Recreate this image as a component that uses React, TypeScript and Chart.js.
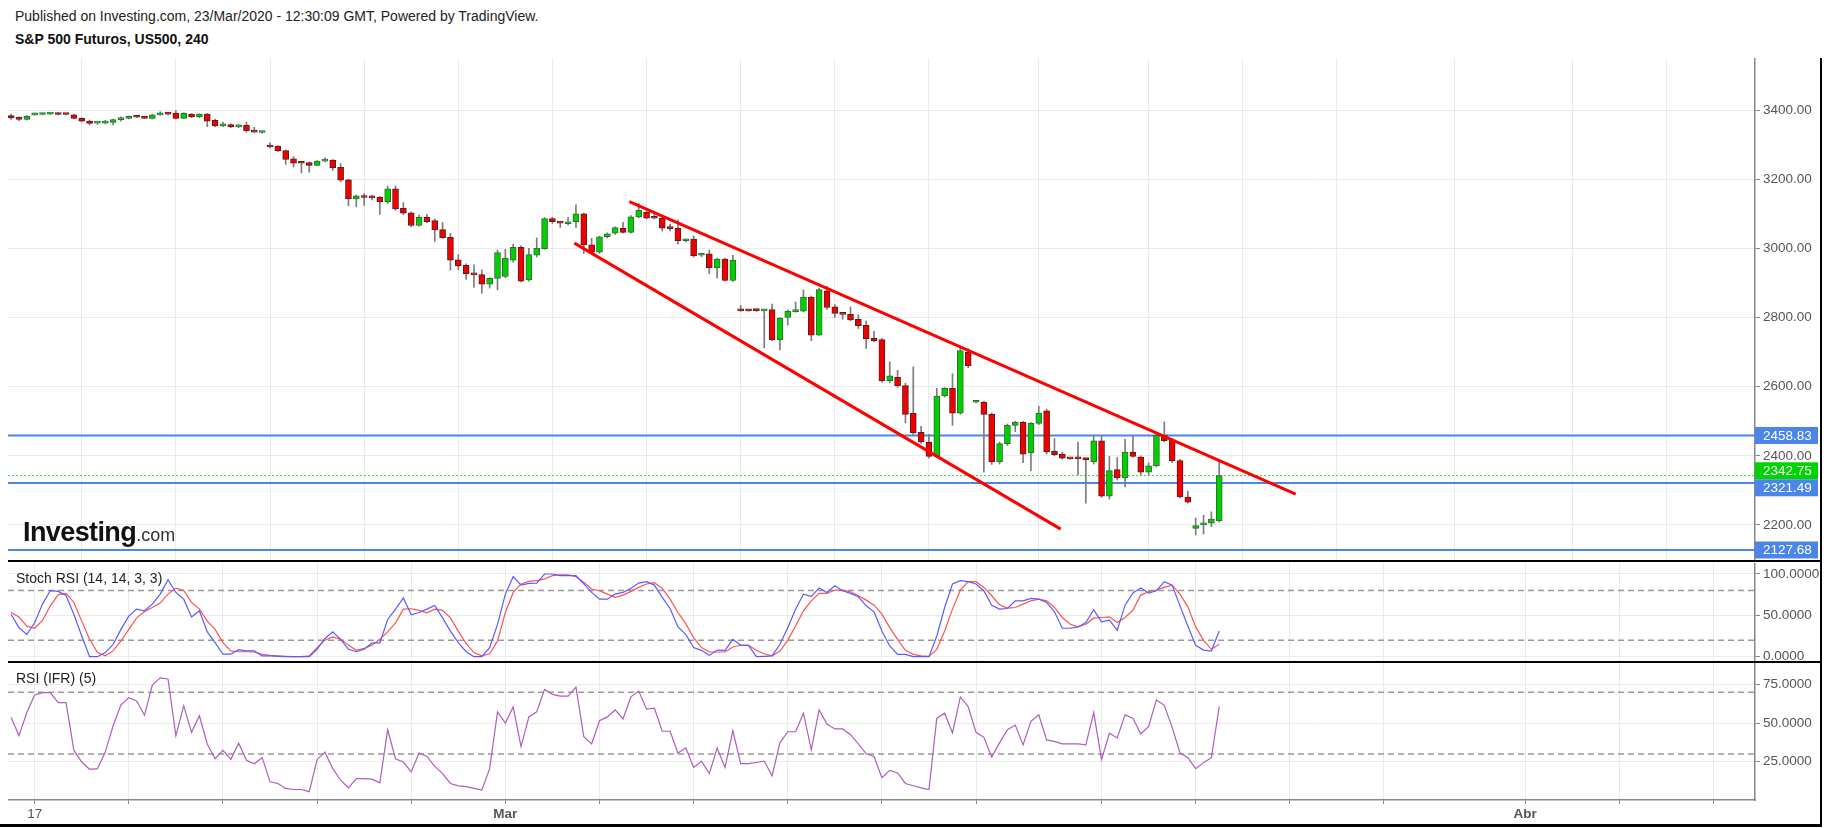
import React, { useEffect, useRef } from "react";
import { Chart, registerables } from "chart.js";
Chart.register(...registerables);

const FONT = "'Liberation Sans', Arial, sans-serif";

// ---- Candles (4h bars, index 0..154) ----
const opens = [
  3384, 3377, 3373, 3386, 3387, 3388, 3390, 3388, 3386, 3376,
  3368, 3362, 3362, 3364, 3372, 3376, 3381, 3380, 3376, 3386,
  3390, 3391, 3376, 3388, 3380, 3388, 3370, 3354, 3358, 3351,
  3356, 3341, 3335, 3298, 3295, 3283, 3259, 3250, 3248, 3240,
  3252, 3255, 3234, 3198, 3143, 3151, 3151, 3148, 3135, 3172,
  3116, 3103, 3066, 3090, 3080, 3054, 3032, 2967, 2951, 2929,
  2924, 2896, 2913, 2919, 2966, 3003, 2909, 2980, 2999, 3086,
  3076, 3071, 3077, 3100, 3010, 2989, 3034, 3044, 3058, 3046,
  3091, 3105, 3089, 3087, 3060, 3058, 3022, 3027, 2980, 2984,
  2944, 2969, 2907, 2822, 2820, 2821, 2819, 2823, 2736, 2800,
  2817, 2818, 2859, 2749, 2877, 2831, 2812, 2809, 2795, 2777,
  2740, 2736, 2617, 2627, 2603, 2523, 2468, 2440, 2398, 2573,
  2595, 2523, 2699, 2555, 2555, 2520, 2382, 2435, 2488, 2497,
  2408, 2494, 2530, 2413, 2405, 2393, 2392, 2391, 2382, 2443,
  2283, 2360, 2336, 2411, 2396, 2353, 2371, 2459, 2446, 2386,
  2281, 2190, 2200, 2205, 2212,
];
const highs = [
  3388, 3380, 3384, 3391, 3391, 3391, 3392, 3389, 3388, 3378,
  3371, 3366, 3370, 3374, 3380, 3383, 3383, 3382, 3388, 3395,
  3393, 3398, 3392, 3390, 3389, 3390, 3374, 3365, 3360, 3358,
  3365, 3350, 3339, 3305, 3297, 3285, 3265, 3252, 3250, 3254,
  3262, 3257, 3245, 3200, 3154, 3158, 3154, 3150, 3180, 3180,
  3132, 3105, 3096, 3098, 3085, 3075, 3043, 2982, 2955, 2952,
  2938, 2915, 2995, 2997, 3012, 3008, 3000, 3030, 3089, 3090,
  3078, 3090, 3126, 3102, 3029, 3035, 3045, 3062, 3075, 3095,
  3130, 3108, 3100, 3090, 3070, 3082, 3027, 3036, 2986, 2995,
  2972, 2972, 2980, 2835, 2823, 2824, 2823, 2839, 2800, 2822,
  2845, 2880, 2862, 2885, 2890, 2837, 2814, 2830, 2808, 2790,
  2760, 2740, 2672, 2647, 2610, 2657, 2485, 2462, 2595, 2597,
  2637, 2712, 2710, 2558, 2558, 2524, 2440, 2492, 2500, 2500,
  2496, 2543, 2535, 2450, 2410, 2394, 2440, 2393, 2459, 2459,
  2398, 2395, 2448, 2456, 2400, 2380, 2461, 2498, 2450, 2390,
  2298, 2220, 2228, 2238, 2383,
];
const lows = [
  3373, 3369, 3371, 3385, 3386, 3387, 3386, 3386, 3374, 3366,
  3357, 3359, 3360, 3357, 3368, 3374, 3378, 3375, 3374, 3385,
  3386, 3374, 3375, 3378, 3378, 3352, 3352, 3352, 3349, 3349,
  3336, 3334, 3333, 3290, 3280, 3243, 3235, 3218, 3220, 3238,
  3250, 3225, 3192, 3123, 3120, 3124, 3140, 3098, 3130, 3110,
  3097, 3062, 3064, 3074, 3020, 3029, 2937, 2938, 2910, 2887,
  2870, 2885, 2880, 2915, 2960, 2903, 2905, 2975, 2997, 3072,
  3060, 3068, 3060, 2985, 2985, 2985, 3030, 3040, 3044, 3044,
  3088, 3085, 3085, 3050, 3050, 3012, 3018, 2975, 2976, 2927,
  2914, 2905, 2904, 2818, 2818, 2818, 2712, 2733, 2706, 2778,
  2815, 2816, 2733, 2748, 2823, 2800, 2795, 2790, 2768, 2710,
  2730, 2612, 2612, 2598, 2495, 2460, 2436, 2393, 2396, 2570,
  2488, 2520, 2655, 2553, 2353, 2375, 2376, 2430, 2470, 2380,
  2356, 2490, 2405, 2400, 2390, 2390, 2345, 2263, 2376, 2280,
  2275, 2330, 2310, 2395, 2345, 2345, 2368, 2440, 2380, 2278,
  2263, 2171, 2174, 2195, 2208,
];
const closes = [
  3377, 3373, 3382, 3388, 3390, 3390, 3387, 3387, 3376, 3368,
  3361, 3365, 3365, 3372, 3377, 3381, 3379, 3376, 3386, 3390,
  3388, 3376, 3391, 3380, 3388, 3368, 3354, 3359, 3351, 3356,
  3340, 3336, 3337, 3293, 3282, 3257, 3246, 3246, 3240, 3252,
  3256, 3233, 3197, 3143, 3152, 3147, 3146, 3135, 3172, 3114,
  3102, 3066, 3090, 3077, 3053, 3031, 2966, 2949, 2927, 2923,
  2896, 2913, 2988, 2972, 3003, 2905, 2982, 3001, 3086, 3077,
  3073, 3075, 3100, 3010, 2989, 3033, 3042, 3060, 3046, 3091,
  3110, 3087, 3087, 3058, 3057, 3022, 3025, 2979, 2984, 2944,
  2969, 2907, 2966, 2819, 2819, 2820, 2821, 2736, 2798, 2818,
  2820, 2859, 2749, 2881, 2829, 2812, 2809, 2793, 2776, 2738,
  2732, 2617, 2631, 2603, 2520, 2467, 2440, 2398, 2573, 2595,
  2523, 2704, 2661, 2556, 2520, 2382, 2435, 2488, 2497, 2405,
  2494, 2523, 2411, 2403, 2393, 2391, 2391, 2389, 2443, 2283,
  2357, 2336, 2411, 2398, 2353, 2371, 2459, 2444, 2386, 2281,
  2266, 2198, 2206, 2217, 2342.75,
];

// ---- Stoch RSI (14,14,3,3) ----
const stochK = [
  51.4, 35, 27, 41, 63.6, 80, 79, 74, 51, 25,
  0, 0, 5, 15, 33, 49, 57.5, 55.5, 63.6, 75.7,
  93, 77.7, 69.6, 48, 55.5, 30, 17, 3, 3, 8.5,
  7, 7, 1, 1, 0.4, 0, 0, 0, 0, 9,
  22, 30, 21, 9, 6, 9, 16.6, 16.6, 45, 57.5,
  71, 50.6, 53.4, 57.5, 62, 47, 31, 17, 6, 0,
  0, 11, 39, 75.7, 96.8, 86.6, 88.7, 89, 100, 100,
  98, 98, 98, 88, 77.7, 69.6, 69.6, 75.7, 77.7, 82.6,
  89, 90.7, 86.6, 71.7, 58.3, 36, 27, 11, 7.7, 1.6,
  8, 7.7, 21, 13.8, 13.8, 0, 0.4, 1, 15, 35,
  57.5, 75.7, 72.9, 83, 77.7, 85.8, 79.8, 76.5, 72.5, 61.5,
  54.3, 31, 13, 2.8, 2.8, 0, 0, 0, 25, 59.5,
  87.9, 92, 90.7, 88, 79.8, 62.3, 57.5, 58.3, 67.6, 67.6,
  70.4, 69.6, 65.6, 54.3, 34.4, 34.4, 36, 41.3, 56.7, 42.1,
  44.1, 32, 62.3, 77, 83, 77, 79.8, 90.7, 86.6, 61.5,
  37.2, 13.8, 8, 6.9, 31,
];
const stochD = [
  53.4, 48, 37, 34.4, 44, 61.5, 75, 76.5, 65.6, 43,
  21, 5, 1, 7, 19, 33, 47, 54.7, 59.5, 64.8,
  75.7, 83, 80, 65.6, 57.5, 43, 33, 17, 7, 6,
  6, 5.7, 3, 1.6, 1, 0.4, 0, 0, 1, 11,
  20, 24, 21, 14, 7.7, 10, 14, 21, 30, 41,
  57.5, 58, 56, 53, 57.5, 56, 47, 31, 16, 5,
  1, 3.6, 19, 53.4, 77.7, 88, 91, 92, 94, 98,
  99, 99, 96.8, 90, 81.8, 79.8, 75.7, 71.7, 74.5, 79,
  83.8, 87.9, 89.5, 82.6, 69.6, 53.4, 40, 23, 11, 5.7,
  5.7, 5.7, 11.7, 13.8, 13.8, 7.7, 3.6, 1, 6.9, 19.8,
  37.2, 55.5, 67.6, 76.5, 76.5, 80.6, 80.6, 78.5, 73.7, 68.4,
  62.3, 51.4, 35.2, 21, 7.7, 2.8, 1, 0.4, 8.9, 31,
  57.5, 80.6, 90.7, 90.7, 83.8, 73.7, 62.8, 58.7, 59.5, 63.6,
  67.6, 69.6, 67.6, 59.5, 47.4, 39.3, 36, 39.3, 46.6, 47.4,
  48.2, 41.3, 47.4, 56.3, 74.5, 78.5, 80.6, 83.8, 86.6, 75.7,
  60.3, 36, 19.8, 8.9, 15,
];

// ---- RSI (5) ----
const rsiValues = [
  53.6, 41.9, 56.8, 68.2, 69.7, 69.7, 63.2, 63.2, 32.3, 24.8,
  20.1, 20.5, 31.2, 48.3, 61.8, 66.5, 64.3, 55.1, 74.6, 79.3,
  78.6, 41.9, 61.1, 44, 54.7, 36.5, 26.9, 32.3, 26.5, 37,
  25.9, 23.7, 27.6, 12, 10.9, 7.7, 7, 7, 5.6, 26.3,
  31.2, 20.5, 13, 8.1, 14.1, 14.1, 13.7, 11.3, 45.7, 26.9,
  24.8, 18.4, 30.6, 28.4, 22, 17.3, 10.9, 9.4, 8.8, 7.7,
  6.6, 20.5, 57.3, 50, 60.5, 34.8, 54, 57.3, 71.8, 68.6,
  67.5, 67.5, 73.3, 41.2, 36.5, 51.5, 54, 58.5, 52.6, 67,
  70.7, 59, 59.6, 44.7, 44.7, 30.6, 34, 21.2, 25.4, 17.3,
  33.8, 21.2, 45, 23.7, 23.7, 24.5, 25.4, 15.8, 37.2, 44.4,
  44.4, 56.4, 32.7, 58.5, 49.4, 46.2, 46.2, 42.5, 36.5, 30.1,
  28.4, 14.7, 19.4, 17.7, 10.9, 9.4, 8.1, 7, 53.2, 56.4,
  43.6, 66.9, 60.7, 44, 40.8, 28, 37.2, 45.7, 48.7, 35.9,
  51.1, 55.3, 39.1, 38.2, 36.5, 36.5, 36.5, 35.9, 56.8, 26.3,
  43.4, 40.4, 55.3, 53.2, 42.9, 47.9, 65, 61.5, 47.2, 30.8,
  27.6, 20.5, 24.4, 27.6, 60.7,
];

// ---- Axes / annotations ----
const xGridIndex = [3, 15, 27, 39, 51, 63, 75, 87, 99, 111, 123, 139, 151, 163, 175, 193, 205, 217];
const xLabelIndex = [3, 63, 193];
const xLabelText = ["17", "Mar", "Abr"];
const priceTicks = [2200, 2400, 2600, 2800, 3000, 3200, 3400];
const stochTicks = [0, 50, 100];
const stochBands = [20, 80];
const rsiTicks = [25, 50, 75];
const rsiBands = [30, 70];
const levelValues = [2458.83, 2321.49, 2127.68];
const lastPrice = 2342.75;
const upperTrendX = [78.8, 163.75];
const upperTrendY = [3135, 2289];
const lowerTrendX = [71.8, 133.8];
const lowerTrendY = [3015, 2188];

// ---- style constants ----
const X_MIN = -0.4;
const X_MAX = 222.3;
const GRID = "#ebebeb";
const AXIS = "#888";
const LABEL = "#555";
const BLUE = "#4a86e8";
const GREEN_TAG = "#00d400";
const BOLD_LABELS = ["Mar", "Abr"];
const AXIS_W = 67;
const AXIS_FONT = 13.5;

function xAxis(showLabels: boolean): any {
  return {
    type: "linear",
    min: X_MIN,
    max: X_MAX,
    offset: false,
    afterBuildTicks: (s: any) => {
      s.ticks = xGridIndex.map((v) => ({ value: v }));
    },
    afterFit: (s: any) => {
      s.height = showLabels ? 23 : 0;
      s.paddingLeft = 0;
      s.paddingRight = 0;
    },
    grid: { color: GRID, lineWidth: 1, drawTicks: showLabels, tickLength: 4, tickColor: AXIS },
    border: { display: showLabels, color: AXIS, width: 1.5 },
    ticks: {
      display: showLabels,
      autoSkip: false,
      maxRotation: 0,
      padding: 2,
      color: LABEL,
      font: (ctx: any) => ({
        family: FONT,
        size: AXIS_FONT,
        weight: ctx.tick && BOLD_LABELS.includes(ctx.tick.label) ? "bold" : "normal",
      }),
      callback: (v: any) => {
        const k = xLabelIndex.indexOf(Number(v));
        return k >= 0 ? xLabelText[k] : "";
      },
    },
  };
}

function yAxis(min: number, max: number, ticks: number[], decimals: number): any {
  return {
    type: "linear",
    position: "right",
    min,
    max,
    afterBuildTicks: (s: any) => {
      s.ticks = ticks.map((v) => ({ value: v }));
    },
    afterFit: (s: any) => {
      s.width = AXIS_W;
      s.paddingTop = 0;
      s.paddingBottom = 0;
    },
    grid: { color: GRID, lineWidth: 1, drawTicks: true, tickLength: 5, tickColor: AXIS },
    border: { display: true, color: AXIS, width: 1.5 },
    ticks: {
      autoSkip: false,
      padding: 3,
      color: LABEL,
      font: { family: FONT, size: AXIS_FONT },
      callback: (v: any) => Number(v).toFixed(decimals),
    },
  };
}

const commonOptions = (scales: any, extra: any = {}): any => ({
  responsive: false,
  animation: false,
  devicePixelRatio: 1,
  layout: { padding: 0 },
  events: [],
  plugins: { legend: { display: false }, tooltip: { enabled: false } },
  elements: { point: { radius: 0 }, line: { tension: 0 } },
  scales,
  ...extra,
});

const hLine = (v: number) => [
  { x: X_MIN, y: v },
  { x: X_MAX, y: v },
];

const priceTagPlugin = {
  id: "priceTags",
  afterDraw(chart: any) {
    const ys = chart.scales.y;
    const ctx = chart.ctx;
    const H = 17;
    const tags = [
      ...levelValues.map((v) => ({ v, color: BLUE })),
      { v: lastPrice, color: GREEN_TAG },
    ]
      .map((t) => ({ ...t, py: ys.getPixelForValue(t.v) }))
      .sort((a, b) => a.py - b.py);
    for (let i = 1; i < tags.length; i++) {
      const a = tags[i - 1];
      const b = tags[i];
      if (b.py - a.py < H) {
        const mid = (a.py + b.py) / 2;
        a.py = mid - H / 2;
        b.py = mid + H / 2;
      }
    }
    ctx.save();
    tags.forEach((t) => {
      ctx.fillStyle = t.color;
      ctx.fillRect(ys.left, t.py - H / 2, 63, H);
      ctx.fillStyle = "#ffffff";
      ctx.font = `${AXIS_FONT}px ${FONT}`;
      ctx.textBaseline = "middle";
      ctx.textAlign = "left";
      ctx.fillText(t.v.toFixed(2), ys.left + 8, t.py + 0.5);
    });
    ctx.restore();
  },
};

export default function App() {
  const mainRef = useRef<HTMLCanvasElement>(null);
  const stochRef = useRef<HTMLCanvasElement>(null);
  const rsiRef = useRef<HTMLCanvasElement>(null);

  useEffect(() => {
    const idx = opens.map((_, i) => i);
    const up = idx.map((i) => closes[i] >= opens[i]);

    const mainChart = new Chart(mainRef.current as HTMLCanvasElement, {
      type: "bar",
      data: {
        datasets: [
          ...levelValues.map((v) => ({
            type: "line",
            data: hLine(v),
            borderColor: BLUE,
            borderWidth: 2,
            pointRadius: 0,
            order: 10,
          })),
          {
            type: "line",
            data: hLine(lastPrice),
            borderColor: "#3ad23a",
            borderWidth: 1,
            borderDash: [2, 2],
            pointRadius: 0,
            order: 9,
          },
          {
            type: "bar",
            data: idx.map((i) => ({ x: i, y: [lows[i], highs[i]] })),
            backgroundColor: "#7d7d7d",
            borderWidth: 0,
            barThickness: 1,
            grouped: false,
            order: 5,
          },
          {
            type: "bar",
            data: idx.map((i) => ({ x: i, y: [opens[i], closes[i]] })),
            backgroundColor: up.map((u) => (u ? "#00d000" : "#f00000")),
            borderColor: up.map((u) => (u ? "#2f6b35" : "#5e1b1b")),
            borderWidth: 1,
            borderSkipped: false,
            barThickness: 6,
            minBarLength: 2,
            grouped: false,
            order: 4,
          },
          {
            type: "line",
            data: upperTrendX.map((x, i) => ({ x, y: upperTrendY[i] })),
            borderColor: "#ff0000",
            borderWidth: 3,
            pointRadius: 0,
            order: 1,
          },
          {
            type: "line",
            data: lowerTrendX.map((x, i) => ({ x, y: lowerTrendY[i] })),
            borderColor: "#ff0000",
            borderWidth: 3,
            pointRadius: 0,
            order: 1,
          },
        ] as any,
      },
      options: commonOptions({ x: xAxis(false), y: yAxis(2095.8, 3550.4, priceTicks, 2) }),
      plugins: [priceTagPlugin],
    } as any);

    const bandSets = (bands: number[]) =>
      bands.map((b) => ({
        data: hLine(b),
        borderColor: "#999999",
        borderWidth: 1.5,
        borderDash: [6, 4],
        pointRadius: 0,
        order: 10,
      }));

    const stochChart = new Chart(stochRef.current as HTMLCanvasElement, {
      type: "line",
      data: {
        datasets: [
          ...bandSets(stochBands),
          {
            data: idx.map((i) => ({ x: i, y: stochD[i] })),
            borderColor: "#ff5252",
            borderWidth: 1.2,
            pointRadius: 0,
            order: 2,
          },
          {
            data: idx.map((i) => ({ x: i, y: stochK[i] })),
            borderColor: "#5b5bff",
            borderWidth: 1.2,
            pointRadius: 0,
            order: 1,
          },
        ] as any,
      },
      options: commonOptions({ x: xAxis(false), y: yAxis(-5.2, 113.3, stochTicks, 4) }),
    } as any);

    const rsiChart = new Chart(rsiRef.current as HTMLCanvasElement, {
      type: "line",
      data: {
        datasets: [
          ...bandSets(rsiBands),
          {
            data: idx.map((i) => ({ x: i, y: rsiValues[i] })),
            borderColor: "#b05cc0",
            borderWidth: 1.2,
            pointRadius: 0,
            order: 1,
          },
        ] as any,
      },
      options: commonOptions({ x: xAxis(true), y: yAxis(0.2, 88.9, rsiTicks, 4) }),
    } as any);

    return () => {
      mainChart.destroy();
      stochChart.destroy();
      rsiChart.destroy();
    };
  }, []);

  const abs = (l: number, t: number, w: number, h: number, bg?: string): React.CSSProperties => ({
    position: "absolute",
    left: l,
    top: t,
    width: w,
    height: h,
    background: bg,
  });

  return (
    <div
      style={{
        position: "absolute",
        left: 0,
        top: 0,
        width: 1833,
        height: 828,
        background: "#ffffff",
        overflow: "hidden",
        fontFamily: FONT,
      }}
    >
      <div style={{ position: "absolute", left: 15, top: 8, fontSize: 14, color: "#222", whiteSpace: "nowrap", lineHeight: "17px" }}>
        Published on Investing.com, 23/Mar/2020 - 12:30:09 GMT, Powered by TradingView.
      </div>
      <div style={{ position: "absolute", left: 15, top: 31, fontSize: 14, fontWeight: "bold", color: "#111", whiteSpace: "nowrap", lineHeight: "17px" }}>
        S&amp;P 500 Futuros, US500, 240
      </div>

      <canvas ref={mainRef} width={1814} height={503} style={abs(8, 58, 1814, 503)} />
      <canvas ref={stochRef} width={1814} height={98} style={abs(8, 563, 1814, 98)} />
      <canvas ref={rsiRef} width={1814} height={160} style={abs(8, 663, 1814, 160)} />

      <div style={{ position: "absolute", left: 23, top: 519, whiteSpace: "nowrap", lineHeight: "27px", color: "#111" }}>
        <span style={{ fontSize: 27, fontWeight: "bold", letterSpacing: -0.6 }}>Investing</span>
        <span style={{ fontSize: 18, color: "#333" }}>.com</span>
      </div>

      <div style={{ position: "absolute", left: 16, top: 570, fontSize: 14, color: "#222", whiteSpace: "nowrap", lineHeight: "17px" }}>
        Stoch RSI (14, 14, 3, 3)
      </div>
      <div style={{ position: "absolute", left: 16, top: 670, fontSize: 14, color: "#222", whiteSpace: "nowrap", lineHeight: "17px" }}>
        RSI (IFR) (5)
      </div>

      <div style={abs(8, 560, 1814, 2, "#000")} />
      <div style={abs(8, 661, 1814, 2, "#000")} />
      <div style={abs(0, 824, 1822, 3, "#000")} />
      <div style={abs(1820, 58, 2, 769, "#000")} />
    </div>
  );
}
